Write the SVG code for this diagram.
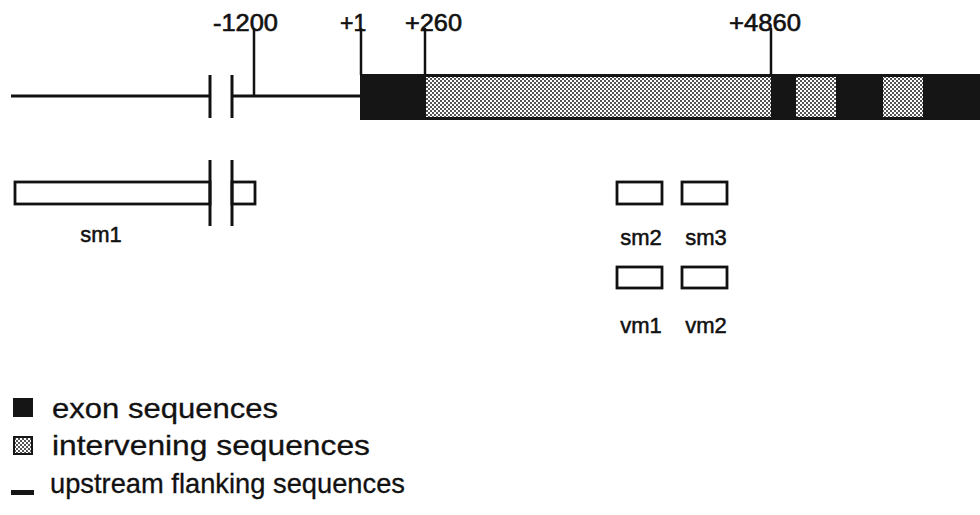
<svg xmlns="http://www.w3.org/2000/svg" width="980" height="515" viewBox="0 0 980 515">
<defs>
<pattern id="dither" width="4" height="4" patternUnits="userSpaceOnUse">
<rect width="4" height="4" fill="#ffffff"/>
<rect x="0" y="0" width="2" height="2" fill="#555"/>
<rect x="2" y="2" width="2" height="2" fill="#555"/>
</pattern>
<style>
.ln{stroke:#111;stroke-width:3;fill:none}
.tk{stroke:#111;stroke-width:2.5;fill:none}
.box{fill:#fff;stroke:#111;stroke-width:2.8}
.lbl{font-family:"Liberation Sans",Arial,sans-serif;font-size:23px;fill:#111;stroke:#111;stroke-width:0.6}
.sm{font-family:"Liberation Sans",Arial,sans-serif;font-size:22px;fill:#111;stroke:#111;stroke-width:0.5}
.leg{font-family:"Liberation Sans",Arial,sans-serif;font-size:28px;fill:#111;stroke:#111;stroke-width:0.3}
.exon{fill:#151515}
.intr{fill:url(#dither)}
</style>
</defs>
<rect width="980" height="515" fill="#fff"/>

<g id="gene">
<line class="ln" x1="11" y1="96" x2="210" y2="96"/>
<line class="ln" x1="232" y1="96" x2="361" y2="96"/>
<line class="ln" x1="210" y1="75" x2="210" y2="118"/>
<line class="ln" x1="232" y1="75" x2="232" y2="118"/>
<rect class="exon" x="360" y="74" width="620" height="46"/>
<rect class="intr" x="426" y="77" width="345" height="40"/>
<rect class="intr" x="796" y="77" width="40" height="40"/>
<rect class="intr" x="883" y="77" width="40" height="40"/>
</g>

<g id="ticks">
<line class="tk" x1="254" y1="28" x2="254" y2="96"/>
<line class="tk" x1="361" y1="28" x2="361" y2="75"/>
<line class="tk" x1="425" y1="28" x2="425" y2="75"/>
<line class="tk" x1="771" y1="28" x2="771" y2="75"/>
<text class="lbl" x="213" y="31" textLength="65" lengthAdjust="spacingAndGlyphs">-1200</text>
<text class="lbl" x="340" y="31">+1</text>
<text class="lbl" x="405" y="31" textLength="57" lengthAdjust="spacingAndGlyphs">+260</text>
<text class="lbl" x="729" y="31" textLength="72" lengthAdjust="spacingAndGlyphs">+4860</text>
</g>

<g id="sm1">
<rect class="box" x="15" y="182" width="195" height="22"/>
<rect class="box" x="232" y="182" width="23" height="22"/>
<line class="ln" x1="210" y1="160" x2="210" y2="226"/>
<line class="ln" x1="232" y1="160" x2="232" y2="226"/>
<text class="sm" x="101" y="242" text-anchor="middle">sm1</text>
</g>

<g id="sm2">
<rect class="box" x="617" y="182" width="45" height="22"/>
<text class="sm" x="641" y="245" text-anchor="middle">sm2</text>
</g>
<g id="sm3">
<rect class="box" x="682" y="182" width="45" height="22"/>
<text class="sm" x="706" y="245" text-anchor="middle">sm3</text>
</g>
<g id="vm1">
<rect class="box" x="617" y="267" width="45" height="21"/>
<text class="sm" x="641" y="333" text-anchor="middle">vm1</text>
</g>
<g id="vm2">
<rect class="box" x="682" y="267" width="45" height="21"/>
<text class="sm" x="706" y="333" text-anchor="middle">vm2</text>
</g>

<g id="legend">
<rect class="exon" x="13" y="398" width="20" height="19"/>
<text class="leg" x="52" y="418" textLength="226" lengthAdjust="spacingAndGlyphs">exon sequences</text>
<rect x="13" y="436" width="20" height="19" fill="#151515"/>
<rect class="intr" x="15" y="438" width="16" height="15"/>
<text class="leg" x="52" y="455" textLength="318" lengthAdjust="spacingAndGlyphs">intervening sequences</text>
<rect x="11" y="490" width="23" height="5" fill="#151515"/>
<text class="leg" x="50" y="493" textLength="355" lengthAdjust="spacingAndGlyphs">upstream flanking sequences</text>
</g>
</svg>
